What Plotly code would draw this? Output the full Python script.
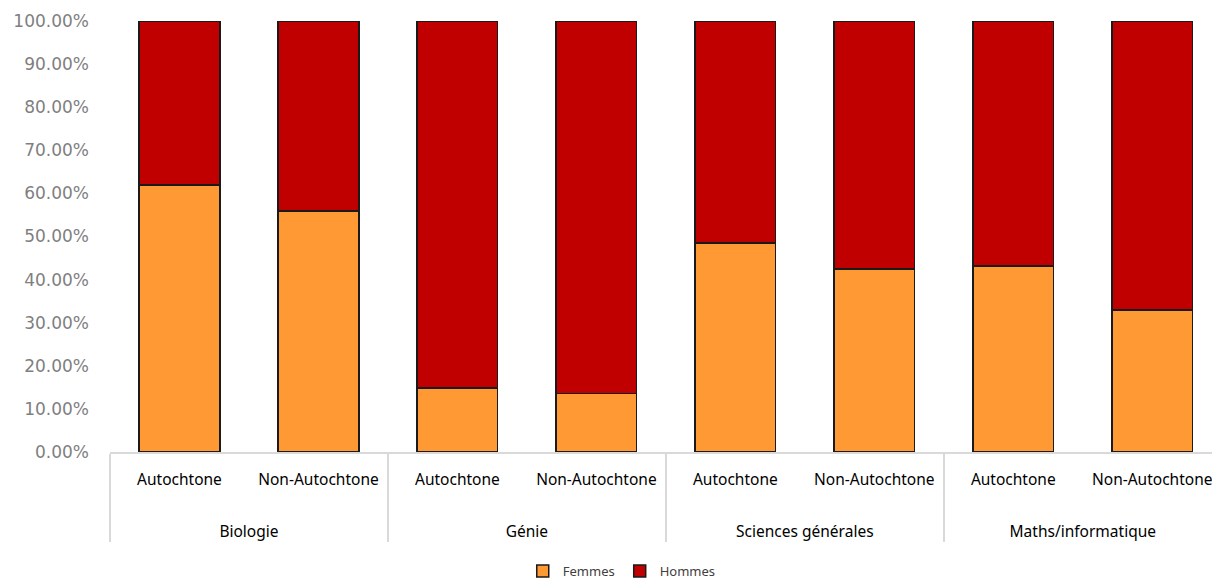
import plotly.graph_objects as go

# Field of study (outer level) and origin group (inner level)
domaines = ["Biologie", "Biologie", "Génie", "Génie",
            "Sciences générales", "Sciences générales",
            "Maths/informatique", "Maths/informatique"]
groupes = ["Autochtone", "Non-Autochtone"] * 4

# Share of women / men in each group
femmes = [0.619, 0.559, 0.148, 0.136, 0.485, 0.425, 0.432, 0.329]
hommes = [1 - v for v in femmes]

# Outer labels get two leading blank lines so they sit well below the inner row
x = [["<br><br>" + d for d in domaines], groupes]

fig = go.Figure()
fig.add_trace(go.Bar(
    x=x, y=femmes, name="Femmes",
    marker=dict(color="#FF9933", line=dict(color="#1a1a1a", width=1.5)),
))
fig.add_trace(go.Bar(
    x=x, y=hommes, name="Hommes",
    marker=dict(color="#C00000", line=dict(color="#1a1a1a", width=1.5)),
))

fig.update_layout(
    barmode="stack",
    bargap=0.42,
    width=1212, height=586,
    margin=dict(l=110, r=0, t=21, b=134, autoexpand=False),
    plot_bgcolor="white", paper_bgcolor="white",
    font=dict(family="Noto Sans", color="#000000"),
    showlegend=True,
    legend=dict(orientation="h", xref="container", x=0.513, xanchor="center",
                yref="container", y=-0.019, yanchor="bottom",
                font=dict(size=13, color="#404040"), traceorder="normal"),
    xaxis=dict(
        type="multicategory",
        range=[-0.5, 7.43],
        showline=True, linecolor="#d9d9d9", linewidth=1.5,
        showgrid=False,
        showdividers=True, dividercolor="#d9d9d9", dividerwidth=1.5,
        ticklabelstandoff=13,
        tickfont=dict(size=15.5, color="#000000"),
    ),
    yaxis=dict(
        range=[0, 1], dtick=0.1, tickformat=".2%",
        showgrid=False, showline=False, zeroline=False,
        tickfont=dict(family="DejaVu Sans", size=17, color="#7f7f7f"),
        ticklabelstandoff=20,
    ),
)

fig.write_html("out.html")
